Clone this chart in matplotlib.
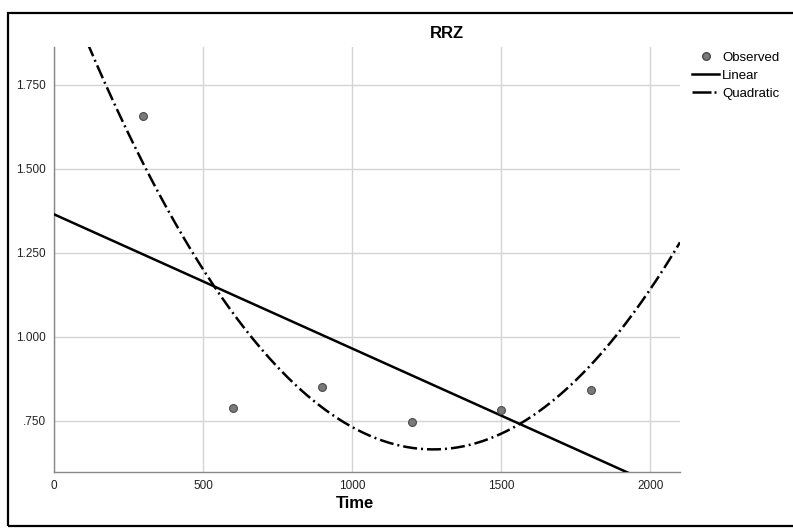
import numpy as np
import matplotlib
matplotlib.use('Agg')
import matplotlib.pyplot as plt
from matplotlib.lines import Line2D
from matplotlib.patches import Rectangle

plt.rcParams['font.family'] = ['Liberation Sans', 'DejaVu Sans']

# observed data
time = np.array([300, 600, 900, 1200, 1500, 1800])
rrz = np.array([1.658, 0.789, 0.852, 0.748, 0.784, 0.843])

# curve fits
lin = np.polyfit(time, rrz, 1)
quad = np.polyfit(time, rrz, 2)
xs = np.linspace(0, 2100, 400)

fig = plt.figure(figsize=(7.93, 5.28), dpi=100)
ax = fig.add_axes([54/793, 1-472/528, (680-54)/793, (472-47)/528])

ax.grid(True, color='#d4d4d4', lw=1.0)
ax.set_axisbelow(True)
ax.plot(xs, np.polyval(lin, xs), color='black', lw=1.8, zorder=3)
ax.plot(xs, np.polyval(quad, xs), color='black', lw=1.8,
        linestyle=(0, (5.6, 1.6, 0.8, 1.6)), zorder=3)
ax.scatter(time, rrz, s=32, color='#7a7a7a', edgecolor='#4a4a4a', lw=0.8, zorder=4)

ax.set_xlim(0, 2100)
ax.set_ylim(0.598, 1.863)
ax.set_xticks([0, 500, 1000, 1500, 2000])
ax.set_yticks([0.75, 1.0, 1.25, 1.5, 1.75])
ax.set_yticklabels(['.750', '1.000', '1.250', '1.500', '1.750'])
ax.tick_params(length=0, labelsize=8.5, colors='#222222', pad=6)
for s in ['top', 'right']:
    ax.spines[s].set_visible(False)
for s in ['left', 'bottom']:
    ax.spines[s].set_color('#888888')
    ax.spines[s].set_linewidth(1.0)

fig.text(447/793, 1-33/528, 'RRZ', ha='center', va='center', fontsize=12, fontweight='bold')
fig.text(355/793, 1-504/528, 'Time', ha='center', va='center', fontsize=12, fontweight='bold')

handles = [
    Line2D([], [], marker='o', linestyle='none', markersize=5.5,
           markerfacecolor='#7a7a7a', markeredgecolor='#4a4a4a'),
    Line2D([], [], color='black', lw=1.8),
    Line2D([], [], color='black', lw=1.8, linestyle=(0, (7.6, 1.2, 0.8, 5))),
]
fig.legend(handles, ['Observed', 'Linear', 'Quadratic'], loc='upper left',
           bbox_to_anchor=(687/793, 1-46/528), frameon=False, fontsize=9.5,
           handlelength=2.05, handletextpad=0.2, labelspacing=0.45, borderaxespad=0)

fig.patches.append(Rectangle((8/793, 1-526/528), 1.0, (526-13)/528,
                             transform=fig.transFigure, fill=False,
                             edgecolor='black', lw=1.6))

fig.savefig('out.png', dpi=100)
